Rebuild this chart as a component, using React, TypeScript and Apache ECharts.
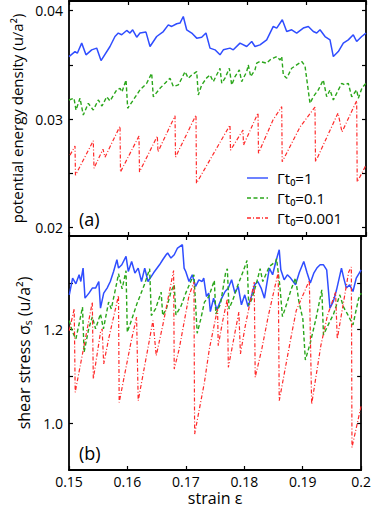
import React, { useEffect, useRef } from "react";
import * as echarts from "echarts";

// ---------- data (strain, value) ----------
const energyRate1: [number, number][] = [
  [0.15, 0.03577], [0.15101, 0.03623], [0.1514, 0.03608], [0.15214, 0.03701], [0.15286, 0.03593],
  [0.15382, 0.03639], [0.15466, 0.03655], [0.15539, 0.0354], [0.1569, 0.0367], [0.15774, 0.03762],
  [0.1583, 0.03794], [0.15887, 0.03778], [0.15971, 0.03818], [0.16027, 0.03794], [0.16072, 0.03824],
  [0.1614, 0.03756], [0.16195, 0.03794], [0.16296, 0.03803], [0.16364, 0.0367], [0.16476, 0.03762],
  [0.16588, 0.03808], [0.16672, 0.0387], [0.16729, 0.03855], [0.16813, 0.0388], [0.16869, 0.03886],
  [0.16924, 0.03947], [0.16981, 0.03824], [0.17066, 0.03794], [0.1715, 0.03747], [0.17234, 0.03756],
  [0.17306, 0.03794], [0.17374, 0.03655], [0.17458, 0.03639], [0.17542, 0.03593], [0.17598, 0.03639],
  [0.1771, 0.03655], [0.17766, 0.03639], [0.17879, 0.03701], [0.17992, 0.0367], [0.18076, 0.03716],
  [0.18131, 0.0367], [0.18215, 0.03685], [0.18328, 0.03731], [0.18439, 0.03855], [0.18497, 0.0384],
  [0.18591, 0.03917], [0.18665, 0.03808], [0.18749, 0.03824], [0.18833, 0.03794], [0.18944, 0.0384],
  [0.19029, 0.03855], [0.19113, 0.03808], [0.1917, 0.03794], [0.19226, 0.03824], [0.1931, 0.03762],
  [0.19394, 0.03731], [0.1945, 0.03577], [0.19534, 0.03623], [0.19618, 0.03701], [0.19702, 0.03731],
  [0.19786, 0.03778], [0.19843, 0.03716], [0.19928, 0.03762], [0.2, 0.03794],
];

const energyRate01: [number, number][] = [
  [0.15, 0.03176], [0.15084, 0.03192], [0.15118, 0.03083], [0.15185, 0.03192], [0.15241, 0.03037],
  [0.15325, 0.03145], [0.15409, 0.03083], [0.15493, 0.03176], [0.15556, 0.0312], [0.15635, 0.03206],
  [0.1569, 0.03167], [0.15803, 0.03269], [0.15859, 0.03284], [0.15892, 0.0325], [0.1596, 0.03361],
  [0.15988, 0.03099], [0.16082, 0.03176], [0.16195, 0.03269], [0.16308, 0.0333], [0.16392, 0.03423],
  [0.16419, 0.03206], [0.16532, 0.03284], [0.16616, 0.0333], [0.167, 0.03377], [0.16756, 0.033],
  [0.1684, 0.03315], [0.16914, 0.03392], [0.16953, 0.03438], [0.17008, 0.03377], [0.17066, 0.03407],
  [0.1715, 0.03438], [0.17177, 0.03222], [0.17234, 0.03315], [0.17318, 0.0338], [0.17374, 0.03407],
  [0.17429, 0.03345], [0.17514, 0.03438], [0.17542, 0.03469], [0.17571, 0.03331], [0.17626, 0.03377],
  [0.17699, 0.03469], [0.17739, 0.03315], [0.17795, 0.03392], [0.17867, 0.03454], [0.17907, 0.03345],
  [0.17992, 0.03438], [0.18018, 0.035], [0.18059, 0.03392], [0.18131, 0.03454], [0.1816, 0.03516],
  [0.18215, 0.03531], [0.18328, 0.03516], [0.18384, 0.03546], [0.18439, 0.03562], [0.18497, 0.03577],
  [0.18552, 0.03546], [0.18581, 0.03577], [0.18608, 0.03407], [0.18665, 0.03377], [0.18749, 0.03469],
  [0.18833, 0.035], [0.18918, 0.03531], [0.18973, 0.03491], [0.19057, 0.03145], [0.19113, 0.03206],
  [0.19197, 0.03269], [0.19281, 0.03361], [0.19338, 0.03206], [0.19394, 0.03269], [0.1945, 0.03176],
  [0.19507, 0.03238], [0.19591, 0.0333], [0.19646, 0.03315], [0.19702, 0.0333], [0.19759, 0.03206],
  [0.19843, 0.03269], [0.19871, 0.03192], [0.19933, 0.03287], [0.2, 0.0333],
];

const energyRate0001: [number, number][] = [
  [0.15017, 0.02667], [0.15101, 0.0275], [0.15109, 0.02481], [0.15409, 0.028], [0.15421, 0.02546],
  [0.15572, 0.02722], [0.15606, 0.02648], [0.15859, 0.02935], [0.15867, 0.02512], [0.16178, 0.02843],
  [0.16187, 0.02512], [0.16487, 0.02843], [0.16498, 0.02697], [0.16785, 0.03031], [0.16793, 0.02648],
  [0.17138, 0.03037], [0.17146, 0.02407], [0.1771, 0.02944], [0.17719, 0.02713], [0.17929, 0.02898],
  [0.17938, 0.02759], [0.18182, 0.03056], [0.1819, 0.02685], [0.18434, 0.02991], [0.18581, 0.03114],
  [0.18589, 0.02605], [0.18889, 0.02926], [0.19141, 0.03111], [0.1915, 0.02605], [0.19529, 0.03056],
  [0.19596, 0.0288], [0.19843, 0.03169], [0.19852, 0.02419], [0.2, 0.02574],
];

const stressRate1: [number, number][] = [
  [0.15005, 1.2743], [0.15062, 1.3101], [0.15118, 1.2979], [0.15173, 1.3171], [0.15202, 1.3028],
  [0.15241, 1.3315], [0.15274, 1.2672], [0.15342, 1.2779], [0.15399, 1.2887], [0.15455, 1.2887],
  [0.1551, 1.3028], [0.15539, 1.2458], [0.15594, 1.2779], [0.15652, 1.2887], [0.15707, 1.3028],
  [0.15763, 1.3242], [0.1582, 1.3493], [0.15847, 1.3315], [0.15904, 1.3385], [0.15976, 1.3563],
  [0.16015, 1.3242], [0.16072, 1.3456], [0.16128, 1.3208], [0.16184, 1.3315], [0.16241, 1.3028],
  [0.16296, 1.3315], [0.16352, 1.3028], [0.16448, 1.3214], [0.16549, 1.3385], [0.16604, 1.3493],
  [0.16662, 1.36], [0.16688, 1.3636], [0.16745, 1.3529], [0.16801, 1.36], [0.16857, 1.3743],
  [0.16941, 1.3814], [0.1697, 1.3315], [0.16998, 1.3242], [0.17054, 1.3028], [0.1711, 1.3171],
  [0.17167, 1.2921], [0.17222, 1.3064], [0.17278, 1.3028], [0.17306, 1.3101], [0.17352, 1.2707],
  [0.17391, 1.2779], [0.17419, 1.2385], [0.17475, 1.2672], [0.1753, 1.2422], [0.17614, 1.2672],
  [0.17672, 1.2814], [0.17727, 1.2887], [0.17783, 1.3064], [0.1784, 1.2779], [0.17896, 1.2921],
  [0.17951, 1.2529], [0.18008, 1.2743], [0.18064, 1.2493], [0.1812, 1.2707], [0.18177, 1.2957],
  [0.18232, 1.3028], [0.18288, 1.2887], [0.18345, 1.2672], [0.18429, 1.3315], [0.18485, 1.3171],
  [0.1854, 1.3456], [0.18598, 1.3707], [0.18625, 1.3278], [0.18682, 1.3064], [0.18737, 1.3171],
  [0.18793, 1.3101], [0.18877, 1.2957], [0.1894, 1.3214], [0.19018, 1.3456], [0.19074, 1.3214],
  [0.1913, 1.2994], [0.19192, 1.3214], [0.19242, 1.3315], [0.19298, 1.3385], [0.19355, 1.3385],
  [0.1941, 1.3278], [0.19466, 1.2458], [0.19524, 1.26], [0.19579, 1.285], [0.19663, 1.3315],
  [0.19702, 1.3101], [0.19747, 1.2887], [0.19803, 1.2957], [0.1986, 1.2814], [0.19916, 1.3101],
  [0.2, 1.3278],
];

const stressRate01: [number, number][] = [
  [0.15005, 1.2193], [0.15062, 1.1944], [0.15118, 1.1801], [0.15173, 1.2122], [0.15231, 1.248],
  [0.15258, 1.1516], [0.15337, 1.2015], [0.15399, 1.2272], [0.15455, 1.2015], [0.15539, 1.2336],
  [0.15589, 1.2015], [0.15678, 1.2587], [0.15724, 1.2443], [0.1582, 1.3015], [0.15847, 1.3193],
  [0.15909, 1.2872], [0.15976, 1.3257], [0.15998, 1.1944], [0.16077, 1.2229], [0.16162, 1.255],
  [0.16241, 1.2801], [0.16296, 1.2979], [0.1638, 1.33], [0.16409, 1.23], [0.16481, 1.2443],
  [0.16577, 1.2801], [0.16604, 1.23], [0.16667, 1.2443], [0.16746, 1.2814], [0.16801, 1.2957],
  [0.1683, 1.2315], [0.16919, 1.2507], [0.16998, 1.2779], [0.17083, 1.3028], [0.17138, 1.3171],
  [0.17194, 1.1923], [0.17256, 1.2229], [0.17318, 1.2587], [0.17391, 1.27], [0.17487, 1.3049],
  [0.17513, 1.2336], [0.17593, 1.255], [0.17682, 1.3229], [0.1771, 1.33], [0.17739, 1.2443],
  [0.17811, 1.2657], [0.17879, 1.2914], [0.1798, 1.3242], [0.18047, 1.3478], [0.18076, 1.2514],
  [0.18131, 1.2657], [0.18215, 1.3021], [0.18271, 1.33], [0.18316, 1.3028], [0.18429, 1.3349],
  [0.1854, 1.3456], [0.18552, 1.3514], [0.18608, 1.2942], [0.18653, 1.2278], [0.1872, 1.2529],
  [0.18805, 1.2872], [0.18877, 1.3101], [0.18934, 1.26], [0.19002, 1.2229], [0.19045, 1.1351],
  [0.19125, 1.1694], [0.19226, 1.2229], [0.19327, 1.285], [0.19355, 1.1887], [0.19444, 1.2122],
  [0.19529, 1.2336], [0.19635, 1.2743], [0.19697, 1.2486], [0.19764, 1.2336], [0.1986, 1.2101],
  [0.19955, 1.2657], [0.2, 1.2779],
];

const stressRate0001: [number, number][] = [
  [0.15005, 1.1979], [0.15089, 1.2443], [0.15106, 1.066], [0.15399, 1.2587], [0.15416, 1.0944],
  [0.15539, 1.1944], [0.15567, 1.2015], [0.15594, 1.1266], [0.15678, 1.1801], [0.15847, 1.2728],
  [0.15859, 1.0445], [0.16072, 1.1801], [0.16157, 1.2266], [0.16184, 1.048], [0.1638, 1.1801],
  [0.16436, 1.2193], [0.16493, 1.1443], [0.16604, 1.2086], [0.16717, 1.2801], [0.1679, 1.3263],
  [0.16801, 1.1158], [0.16886, 1.1587], [0.17054, 1.2728], [0.17138, 1.3015], [0.1715, 0.9767],
  [0.17318, 1.0874], [0.17402, 1.1587], [0.17542, 1.2443], [0.17554, 1.1657], [0.17626, 1.2158],
  [0.1771, 1.2657], [0.17727, 1.1195], [0.17907, 1.2373], [0.17934, 1.148], [0.18018, 1.2086],
  [0.1817, 1.3015], [0.18187, 1.0981], [0.183, 1.1587], [0.18412, 1.23], [0.18581, 1.3229],
  [0.18598, 1.048], [0.18805, 1.1872], [0.18889, 1.2407], [0.19113, 1.3049], [0.19153, 1.0409],
  [0.1931, 1.1657], [0.19423, 1.23], [0.19562, 1.2801], [0.19591, 1.1801], [0.19786, 1.3229],
  [0.19832, 1.3336], [0.19843, 0.9482], [0.2, 1.0373],
];

const strainTicks = [0.15, 0.16, 0.17, 0.18, 0.19, 0.2];
const energyTicks = [0.02, 0.025, 0.03, 0.035, 0.04];
const energyLabels = [0.02, 0.03, 0.04];
const stressTicks = [1.0, 1.1, 1.2, 1.3];
const stressLabels = [1.0, 1.2];
const legendNames = ["Γt₀=1", "Γt₀=0.1", "Γt₀=0.001"];

const FONT = "'Open Sans', 'DejaVu Sans', sans-serif";
const BLUE = "#2f4dff";
const GREEN = "#2aa61a";
const RED = "#ff2a2a";

export default function App() {
  const ref = useRef<HTMLDivElement>(null);
  useEffect(() => {
    if (!ref.current) return;
    const chart = echarts.init(ref.current, undefined, { renderer: "svg" });
    const tickBase = { inside: true, length: 4, lineStyle: { color: "#000", width: 1.2 } };
    const lineBase = { show: true, lineStyle: { color: "#000", width: 1.8 } };
    const xBase = (grid: number, pos: string, labels: boolean, extra: any = {}) => ({
      type: "value",
      gridIndex: grid,
      position: pos,
      min: 0.15,
      max: 0.2,
      axisLine: lineBase,
      axisTick: { ...tickBase, customValues: strainTicks },
      axisLabel: labels
        ? {
            show: true,
            customValues: strainTicks,
            formatter: (v: number) => String(+v.toFixed(2)),
            fontFamily: FONT,
            fontSize: 14,
            lineHeight: 13,
            color: "#000",
            margin: 5,
          }
        : { show: false },
      splitLine: { show: false },
      ...extra,
    });
    const yBase = (grid: number, pos: string, min: number, max: number, ticks: number[], labels: number[] | null, fmt: number, extra: any = {}) => ({
      type: "value",
      gridIndex: grid,
      position: pos,
      min,
      max,
      axisLine: lineBase,
      axisTick: { ...tickBase, customValues: ticks },
      axisLabel: labels
        ? {
            show: true,
            customValues: labels,
            formatter: (v: number) => v.toFixed(fmt),
            fontFamily: FONT,
            fontSize: 14,
            color: "#000",
            margin: 6,
          }
        : { show: false },
      splitLine: { show: false },
      ...extra,
    });
    const line = (name: string, data: [number, number][], color: string, type: any, grid: number, width: number) => ({
      name,
      type: "line",
      data,
      xAxisIndex: grid * 2,
      yAxisIndex: grid * 2,
      showSymbol: false,
      symbol: "none",
      clip: true,
      lineStyle: { color, width, type },
      z: 2,
    });
    const legendY = [178, 198, 218];
    const legendColors = [BLUE, GREEN, RED];
    const legendDash: any[] = [null, [4, 2.5], [4, 2, 1, 2]];
    const graphic: any[] = [];
    legendNames.forEach((n, i) => {
      graphic.push({
        type: "line",
        shape: { x1: 247, y1: legendY[i], x2: 268, y2: legendY[i] },
        style: { stroke: legendColors[i], lineWidth: 1.4, lineDash: legendDash[i] },
        z: 10,
      });
      graphic.push({
        type: "text",
        x: 277,
        y: legendY[i],
        style: {
          text: n,
          fontFamily: FONT,
          fontSize: 15,
          lineHeight: 16,
          fill: "#000",
          verticalAlign: "middle",
        },
        z: 10,
      });
    });
    graphic.push({
      type: "text",
      x: 79,
      y: 219,
      style: { text: "(a)", fontFamily: FONT, fontSize: 18, fill: "#000", verticalAlign: "middle" },
      z: 10,
    });
    graphic.push({
      type: "text",
      x: 79,
      y: 453,
      style: { text: "(b)", fontFamily: FONT, fontSize: 18, fill: "#000", verticalAlign: "middle" },
      z: 10,
    });
    chart.setOption({
      animation: false,
      backgroundColor: "#fff",
      grid: [
        { left: 69, right: 8, top: 1, height: 235 },
        { left: 69, right: 8, top: 236, height: 234 },
      ],
      xAxis: [
        xBase(0, "bottom", false),
        xBase(0, "top", false),
        xBase(1, "bottom", true, {
          name: "strain ε",
          nameLocation: "middle",
          nameGap: 20,
          nameTextStyle: { fontFamily: FONT, fontSize: 16, lineHeight: 16, color: "#000" },
        }),
        xBase(1, "top", false),
      ],
      yAxis: [
        yBase(0, "left", 0.0192, 0.0409, energyTicks, energyLabels, 2, {
          name: "potential energy density (u/a²)",
          nameLocation: "middle",
          nameGap: 42,
          nameRotate: 90,
          nameTextStyle: { fontFamily: FONT, fontSize: 15, color: "#000" },
        }),
        yBase(0, "right", 0.0192, 0.0409, energyTicks, null, 2),
        yBase(1, "left", 0.9, 1.4, stressTicks, stressLabels, 1, {
          name: "shear stress σₛ (u/a²)",
          nameLocation: "middle",
          nameGap: 32,
          nameRotate: 90,
          nameTextStyle: { fontFamily: FONT, fontSize: 16, color: "#000" },
        }),
        yBase(1, "right", 0.9, 1.4, stressTicks, null, 1),
      ],
      series: [
        line(legendNames[0], energyRate1, BLUE, "solid", 0, 1.5),
        line(legendNames[1], energyRate01, GREEN, [4, 2.5], 0, 1.4),
        line(legendNames[2], energyRate0001, RED, [4, 2, 1, 2], 0, 1.2),
        line(legendNames[0] + " ", stressRate1, BLUE, "solid", 1, 1.5),
        line(legendNames[1] + " ", stressRate01, GREEN, [4, 2.5], 1, 1.4),
        line(legendNames[2] + " ", stressRate0001, RED, [4, 2, 1, 2], 1, 1.2),
      ],
      graphic,
    });
    return () => chart.dispose();
  }, []);
  return (
    <div
      ref={ref}
      style={{ position: "fixed", left: 0, top: 0, width: 374, height: 514, background: "#fff" }}
    />
  );
}
